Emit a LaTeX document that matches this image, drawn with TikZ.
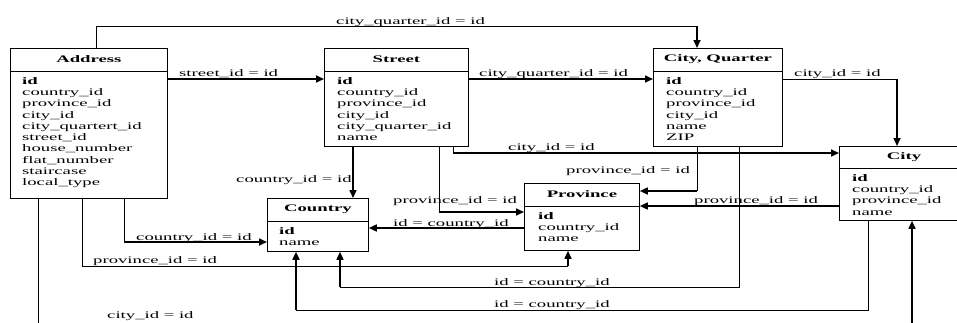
\documentclass[tikz,border=0pt]{standalone}
\usepackage{fontspec}
\setmainfont[FakeStretch=1.87]{Liberation Serif}
\usetikzlibrary{arrows.meta}

\begin{document}
\begin{tikzpicture}[x=1pt, y=-1pt, font=\fontsize{10}{11.3}\selectfont]
	\tikzstyle{tbl}=[draw, line width=0.8pt, anchor=north west, inner sep=0pt]
	\tikzstyle{ttl}=[font=\fontsize{10}{11.3}\selectfont\bfseries, inner sep=0pt]
	\tikzstyle{fld}=[anchor=north west, align=left, inner sep=0pt]
	\tikzstyle{rel}=[line width=0.8pt]
	\tikzstyle{relarr}=[line width=1.6pt, -{Triangle[length=8pt, width=7pt]}]
	\tikzstyle{lbl}=[anchor=base west, inner sep=0pt]

	\useasboundingbox (0,0) rectangle (957,322);
	\clip (0,0) rectangle (957,322);

	% tables
	\node[tbl, minimum width=157pt, minimum height=150pt] (Addr) at (10,48) {};
	\node[ttl] (AddrT) at ([yshift=-11.5pt]Addr.north) {Address};
	\draw[rel] ([yshift=-23pt]Addr.north west) -- ([yshift=-23pt]Addr.north east);
	\node[fld] (AddrF) at ([xshift=12pt, yshift=-29pt]Addr.north west)
		{\textbf{id}\\country\_id\\province\_id\\city\_id\\city\_quartert\_id\\street\_id\\house\_number\\flat\_number\\staircase\\local\_type};

	\node[tbl, minimum width=144pt, minimum height=98pt] (Street) at (324,48) {};
	\node[ttl] (StreetT) at ([yshift=-11.5pt]Street.north) {Street};
	\draw[rel] ([yshift=-23pt]Street.north west) -- ([yshift=-23pt]Street.north east);
	\node[fld] (StreetF) at ([xshift=13pt, yshift=-29pt]Street.north west)
		{\textbf{id}\\country\_id\\province\_id\\city\_id\\city\_quarter\_id\\name};

	\node[tbl, minimum width=129pt, minimum height=98pt] (Quarter) at (653,48) {};
	\node[ttl] (QuarterT) at ([yshift=-11.5pt]Quarter.north) {City, Quarter};
	\draw[rel] ([yshift=-23pt]Quarter.north west) -- ([yshift=-23pt]Quarter.north east);
	\node[fld] (QuarterF) at ([xshift=13pt, yshift=-29pt]Quarter.north west)
		{\textbf{id}\\country\_id\\province\_id\\city\_id\\name\\ZIP};

	\node[tbl, minimum width=140pt, minimum height=74pt] (City) at (839,146) {};
	\node[ttl] (CityT) at ([yshift=-11pt]City.north west -| 904,0) {City};
	\draw[rel] ([yshift=-22pt]City.north west) -- ([yshift=-22pt]City.north east);
	\node[fld] (CityF) at ([xshift=13pt, yshift=-28pt]City.north west)
		{\textbf{id}\\country\_id\\province\_id\\name};

	\node[tbl, minimum width=101pt, minimum height=53pt] (Country) at (267,198) {};
	\node[ttl] (CountryT) at ([yshift=-11.5pt]Country.north) {Country};
	\draw[rel] ([yshift=-23pt]Country.north west) -- ([yshift=-23pt]Country.north east);
	\node[fld] (CountryF) at ([xshift=12pt, yshift=-29pt]Country.north west)
		{\textbf{id}\\name};

	\node[tbl, minimum width=115pt, minimum height=67pt] (Prov) at (524,183) {};
	\node[ttl] (ProvT) at ([yshift=-11.5pt]Prov.north) {Province};
	\draw[rel] ([yshift=-23pt]Prov.north west) -- ([yshift=-23pt]Prov.north east);
	\node[fld] (ProvF) at ([xshift=14pt, yshift=-29pt]Prov.north west)
		{\textbf{id}\\country\_id\\name};

	% connectors
	\coordinate (q1) at (697,26);
	\draw[rel] ([xshift=86pt]Addr.north west) |- (q1);
	\draw[relarr] (q1) -- (q1 |- Quarter.north);

	\draw[relarr] ([yshift=-31pt]Addr.north east) -- ([yshift=-31pt]Street.north west);
	\draw[relarr] ([yshift=-31pt]Street.north east) -- ([yshift=-31pt]Quarter.north west);

	\coordinate (q4) at (897,79);
	\draw[rel] ([yshift=-31pt]Quarter.north east) -- (q4);
	\draw[relarr] (q4) -- (q4 |- City.north);

	\coordinate (s1) at (453,153);
	\draw[rel] (s1 |- Street.south) -- (s1);
	\draw[relarr] (s1) -- (s1 -| City.west);

	\coordinate (s2) at (353,146);
	\draw[relarr] (s2 |- Street.south) -- (s2 |- Country.north);

	\coordinate (s3) at (439,212);
	\draw[rel] (s3 |- Street.south) -- (s3);
	\draw[relarr] (s3) -- (s3 -| Prov.west);

	\coordinate (q2) at (697,191);
	\draw[rel] (q2 |- Quarter.south) -- (q2);
	\draw[relarr] (q2) -- (q2 -| Prov.east);

	\coordinate (q3) at (739,287);
	\coordinate (q3b) at (340,287);
	\draw[rel] (q3 |- Quarter.south) -- (q3) -- (q3b);
	\draw[relarr] (q3b) -- (q3b |- Country.south);

	\draw[relarr] ([yshift=-60pt]City.north west) -- ([yshift=-23pt]Prov.north east);

	\coordinate (c2) at (868,310);
	\coordinate (c2b) at (296,310);
	\draw[rel] (c2 |- City.south) -- (c2) -- (c2b);
	\draw[relarr] (c2b) -- (c2b |- Country.south);

	\coordinate (c3) at (912,330);
	\draw[relarr] (c3) -- (c3 |- City.south);

	\coordinate (a1) at (38,330);
	\draw[rel] (a1 |- Addr.south) -- (a1);

	\coordinate (a2) at (82,266);
	\coordinate (a2b) at (568,266);
	\draw[rel] (a2 |- Addr.south) -- (a2) -- (a2b);
	\draw[relarr] (a2b) -- (a2b |- Prov.south);

	\coordinate (a3) at (124,242);
	\draw[rel] (a3 |- Addr.south) -- (a3);
	\draw[relarr] (a3) -- (a3 -| Country.west);

	\draw[relarr] ([yshift=-45pt]Prov.north west) -- ([yshift=-30pt]Country.north east);

	% labels
	\node[lbl] (l1) at (336,24) {city\_quarter\_id = id};
	\node[lbl] (l2) at (179,76) {street\_id = id};
	\node[lbl] (l3) at (479,76) {city\_quarter\_id = id};
	\node[lbl] (l4) at (794,76) {city\_id = id};
	\node[lbl] (l5) at (508,150) {city\_id = id};
	\node[lbl] (l6) at (566,173) {province\_id = id};
	\node[lbl] (l7) at (236,182) {country\_id = id};
	\node[lbl] (l8) at (393,203) {province\_id = id};
	\node[lbl] (l9) at (694,203) {province\_id = id};
	\node[lbl] (l10) at (393,226) {id = country\_id};
	\node[lbl] (l11) at (136,240) {country\_id = id};
	\node[lbl] (l12) at (93,263) {province\_id = id};
	\node[lbl] (l13) at (494,285) {id = country\_id};
	\node[lbl] (l14) at (494,307) {id = country\_id};
	\node[lbl] (l15) at (107,318.5) {city\_id = id};
\end{tikzpicture}
\end{document}
